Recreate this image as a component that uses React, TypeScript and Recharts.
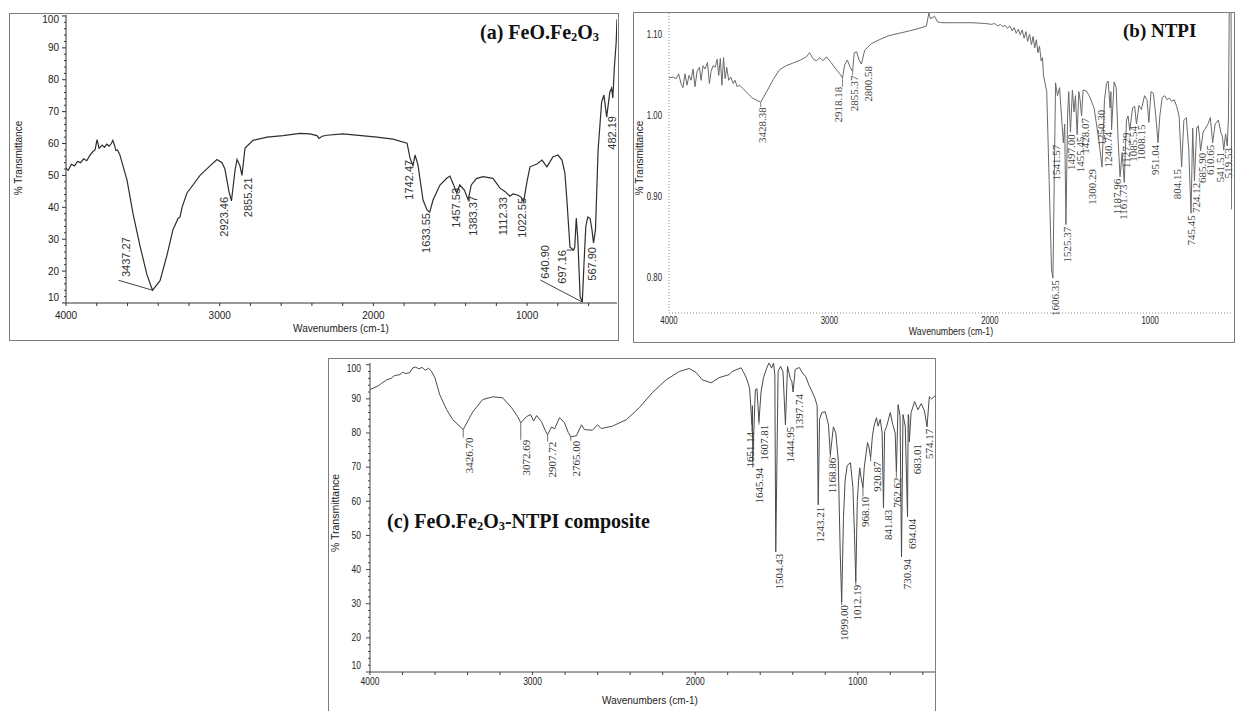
import React from "react";
import { ComposedChart, Line, XAxis, YAxis, ReferenceDot } from "recharts";

type Pt = [number, number];
type Peak = [string, number];
// [text dx, text dy, leader dx, leader dy] relative to the peak point, in px
type LabelPos = [number, number, number?, number?];

// (a) FeO.Fe2O3 : wavenumber (cm-1), % transmittance
const A_SPECTRUM: Pt[] = [
  [4000, 52.3], [3985, 51.6], [3965, 53.5], [3945, 53.0], [3925, 54.4], [3905, 54.0],
  [3885, 55.2], [3865, 54.6], [3845, 56.3], [3825, 57.5], [3811, 58.0], [3798, 61.2],
  [3785, 58.5], [3765, 59.5], [3750, 58.8], [3735, 59.8], [3720, 59.2], [3705, 60.0],
  [3695, 61.0], [3685, 59.5], [3675, 57.8], [3665, 58.0], [3650, 56.5], [3603, 48.5],
  [3564, 38], [3519, 28], [3473, 18.8], [3388, 17], [3343, 25], [3304, 33], [3271, 36.5],
  [3258, 37], [3245, 40], [3213, 44.5], [3174, 47], [3128, 50], [3063, 53], [3018, 55],
  [2985, 54], [2966, 52], [2940, 45], [2900, 51.7], [2887, 55], [2868, 53], [2835, 58.6],
  [2783, 61], [2692, 62], [2588, 62.5], [2478, 63.2], [2413, 63], [2367, 62.5], [2354, 61.6],
  [2334, 62.3], [2302, 62.6], [2198, 63], [1977, 62], [1873, 61.4], [1781, 60.1], [1762, 55.5],
  [1729, 56.4], [1710, 53.3], [1677, 42.3], [1651, 39.2], [1612, 42.3], [1567, 47],
  [1521, 49.2], [1502, 49.8], [1482, 47.5], [1438, 47], [1408, 45.4], [1363, 47], [1330, 49],
  [1287, 49.6], [1222, 49.1], [1176, 46], [1144, 45], [1092, 44.2], [1059, 43.8], [1040, 43.2],
  [1001, 48], [981, 52.7], [936, 53.6], [903, 54.8], [871, 52.7], [832, 55.8], [799, 56.4],
  [773, 54.8], [754, 50.7], [741, 42.3], [721, 27.5], [690, 27.5], [680, 36.6], [670, 30],
  [655, 12], [630, 22], [618, 34], [605, 37], [590, 36.5], [578, 33], [555, 33], [545, 47.6],
  [538, 58], [515, 73], [500, 75.2], [462, 76], [450, 77.4], [442, 74.3], [432, 84],
  [420, 92], [415, 99],
];
const A_PEAKS: Peak[] = [
  ["3437.27", 14.0], ["2923.46", 42.0], ["2855.21", 50.0], ["1742.47", 53.0],
  ["1633.55", 38.5], ["1457.53", 44.5], ["1383.37", 42.3], ["1112.33", 43.5],
  ["1022.55", 41.7], ["697.16", 26.6], ["640.90", 10.3], ["567.90", 28.8], ["482.19", 68.3],
];

// (b) NTPI
const B_SPECTRUM: Pt[] = [
  [4000, 1.047], [3975, 1.048], [3955, 1.046], [3940, 1.052], [3925, 1.04], [3913, 1.035],
  [3900, 1.052], [3888, 1.038], [3875, 1.05], [3862, 1.044], [3850, 1.058], [3838, 1.036],
  [3825, 1.055], [3810, 1.06], [3800, 1.044], [3788, 1.062], [3775, 1.058], [3760, 1.066],
  [3748, 1.04], [3738, 1.055], [3725, 1.062], [3712, 1.06], [3700, 1.07], [3690, 1.05],
  [3680, 1.071], [3670, 1.038], [3660, 1.072], [3650, 1.046], [3640, 1.06], [3628, 1.044],
  [3615, 1.048], [3600, 1.04], [3588, 1.044], [3575, 1.036], [3560, 1.038], [3540, 1.034],
  [3510, 1.028], [3480, 1.022], [3391, 1.03], [3350, 1.045], [3311, 1.057], [3270, 1.062],
  [3230, 1.065], [3180, 1.069], [3143, 1.073], [3124, 1.078], [3100, 1.07], [3080, 1.068],
  [3060, 1.072], [3040, 1.068], [3019, 1.073], [2990, 1.066], [2960, 1.058], [2935, 1.052],
  [2905, 1.063], [2888, 1.069], [2870, 1.06], [2845, 1.078], [2830, 1.079], [2815, 1.069],
  [2780, 1.081], [2740, 1.089], [2690, 1.094], [2630, 1.099], [2565, 1.102], [2500, 1.105],
  [2441, 1.108], [2395, 1.111], [2380, 1.127], [2370, 1.12], [2360, 1.121], [2345, 1.123],
  [2325, 1.116], [2300, 1.115], [2200, 1.115], [2112, 1.115], [2025, 1.114], [1990, 1.113],
  [1970, 1.114], [1950, 1.111], [1935, 1.113], [1920, 1.11], [1905, 1.112], [1890, 1.108],
  [1875, 1.111], [1860, 1.105], [1848, 1.109], [1835, 1.102], [1822, 1.107], [1810, 1.1],
  [1798, 1.106], [1786, 1.096], [1775, 1.104], [1764, 1.092], [1752, 1.101], [1740, 1.088],
  [1730, 1.098], [1720, 1.084], [1710, 1.094], [1700, 1.078], [1690, 1.086], [1680, 1.068],
  [1672, 1.072], [1665, 1.05], [1655, 1.04], [1645, 1.03], [1630, 0.92], [1615, 0.81],
  [1590, 1.041], [1578, 1.025], [1565, 1.035], [1533, 0.99], [1515, 1.0], [1508, 1.03],
  [1485, 1.032], [1475, 1.005], [1466, 1.025], [1445, 1.03], [1437, 1.02], [1418, 1.032],
  [1400, 1.031], [1380, 1.025], [1350, 1.01], [1320, 0.97], [1285, 1.02], [1272, 1.04],
  [1262, 1.043], [1245, 1.03], [1225, 1.042], [1212, 1.035], [1200, 0.97], [1175, 0.955],
  [1148, 0.995], [1138, 1.0], [1110, 1.01], [1097, 1.012], [1070, 1.013], [1055, 1.008],
  [1035, 1.025], [1020, 1.02], [995, 1.03], [980, 1.028], [965, 1.0], [940, 1.0],
  [925, 1.023], [910, 1.025], [895, 1.02], [880, 1.022], [865, 1.018], [850, 1.02],
  [835, 1.012], [820, 1.0], [790, 0.995], [775, 0.998], [760, 0.96], [735, 0.985],
  [710, 0.985], [700, 0.988], [693, 0.975], [670, 0.98], [655, 0.985], [640, 0.99],
  [625, 0.998], [595, 0.99], [575, 0.995], [560, 0.98], [550, 0.975], [530, 0.978],
  [512, 1.0], [507, 1.14], [496, 1.14], [492, 0.885], [490, 0.885],
];
const B_PEAKS: Peak[] = [
  ["3428.38", 1.017], ["2918.18", 1.047], ["2855.37", 1.055], ["2800.58", 1.064],
  ["1606.35", 0.8], ["1541.57", 0.967], ["1525.37", 0.866], ["1497.00", 0.98],
  ["1455.45", 0.977], ["1428.07", 1.0], ["1300.29", 0.937], ["1250.30", 1.01],
  ["1240.74", 0.983], ["1187.96", 0.925], ["1161.73", 0.918], ["1127.29", 0.982],
  ["1085.54", 0.99], ["1008.15", 0.992], ["951.04", 0.967], ["804.15", 0.937],
  ["745.45", 0.88], ["724.12", 0.92], ["685.90", 0.957], ["610.65", 0.967],
  ["541.51", 0.958], ["519.53", 0.963],
];

// (c) FeO.Fe2O3-NTPI composite
const C_SPECTRUM: Pt[] = [
  [4000, 92.7], [3950, 93.8], [3930, 94.5], [3896, 95.6], [3870, 96.0], [3850, 96.8],
  [3816, 97.1], [3800, 97.8], [3780, 97.4], [3755, 97.7], [3736, 99.1], [3720, 99.3],
  [3700, 98.8], [3680, 99.2], [3660, 98.4], [3650, 98.6], [3640, 99.0], [3620, 97.9],
  [3601, 96.2], [3571, 91.2], [3528, 86.8], [3491, 83.9], [3368, 86.2], [3307, 89.8],
  [3245, 90.6], [3184, 90.3], [3129, 87.4], [3092, 84.8], [3037, 84.8], [3012, 85.4],
  [2994, 83.5], [2975, 85.1], [2945, 83.3], [2920, 80.5], [2883, 81.8], [2865, 81.2],
  [2834, 84.5], [2804, 83], [2780, 80.1], [2730, 79.2], [2699, 82.4], [2681, 81],
  [2632, 80.8], [2601, 82.4], [2577, 81.3], [2509, 82], [2423, 83.9], [2344, 87.4],
  [2264, 91.8], [2178, 95.6], [2098, 98], [2037, 98.9], [1994, 97.7], [1957, 95.6],
  [1902, 94.7], [1853, 96.2], [1791, 97.1], [1773, 98], [1718, 99.1], [1699, 97.5],
  [1681, 95.6], [1665, 93], [1648, 88], [1630, 92.7], [1620, 93], [1595, 92],
  [1580, 96.2], [1560, 99], [1546, 100.5], [1530, 99], [1518, 100.5], [1510, 97],
  [1490, 98], [1475, 99.5], [1460, 98], [1432, 99.5], [1415, 96], [1405, 95],
  [1385, 98.6], [1360, 99.2], [1340, 97.6], [1320, 96.5], [1300, 94], [1280, 92],
  [1262, 90], [1250, 88], [1235, 84], [1221, 86], [1200, 86.2], [1180, 82.4],
  [1150, 81.8], [1135, 80], [1120, 72], [1108, 45], [1088, 55], [1078, 66], [1065, 70.5],
  [1045, 71.3], [1030, 64], [1020, 50], [1003, 60], [995, 66], [988, 69.8], [980, 67],
  [960, 70], [950, 73.6], [940, 77.2], [932, 76], [910, 79], [900, 82], [885, 84.5],
  [875, 82], [862, 84], [850, 80], [835, 80.4], [822, 82], [800, 86], [785, 82.5],
  [770, 80], [752, 88.3], [740, 85], [722, 85.4], [708, 82], [690, 85.4], [687, 85],
  [672, 86], [650, 89.2], [630, 86.8], [610, 88.6], [590, 86.5], [560, 90.6], [545, 90],
  [525, 90.9],
];
const C_PEAKS: Peak[] = [
  ["3426.70", 81.0], ["3072.69", 83.0], ["2907.72", 79.5], ["2765.00", 78.9],
  ["1651.14", 82.4], ["1645.94", 71.6], ["1607.81", 83.3], ["1504.43", 45.2],
  ["1444.95", 82.4], ["1397.74", 92], ["1243.21", 59], ["1168.86", 73.6],
  ["1099.00", 30.5], ["1012.19", 36.4], ["968.10", 64], ["920.87", 72.8],
  ["841.83", 58.1], ["762.62", 68.7], ["730.94", 43.7], ["694.04", 55.5],
  ["683.01", 77.4], ["574.17", 81.8],
];

const WAVENUMBER_LABELS = [4000, 3000, 2000, 1000];
const PERCENT_LABELS = [10, 20, 30, 40, 50, 60, 70, 80, 90, 100];
const NTPI_LABELS = [0.8, 0.9, 1.0, 1.1];

// label placement around each peak
const A_LABEL_POS: Record<string, LabelPos> = {
  "3437.27": [-26, -53, -34, -10],
  "2923.46": [-7, -4],
  "2855.21": [6, 2],
  "1742.47": [-4, -6],
  "1633.55": [-4, 1],
  "1457.53": [-1, -5],
  "1383.37": [5, -4],
  "1112.33": [-7, 1],
  "1022.55": [-2, -4],
  "697.16": [-12, 0, -7, 0],
  "640.90": [-37, -57, -42, -22],
  "567.90": [-1, 4],
  "482.19": [5, -1],
};
const B_LABEL_POS: Record<string, LabelPos> = {
  "3428.38": [1, 5], "2918.18": [-5, 9], "2855.37": [1, 4], "2800.58": [7, 2],
  "1606.35": [2.5, 2], "1541.57": [-7.5, 2], "1525.37": [1.5, 2], "1497.00": [1, 2],
  "1455.45": [2.5, 2], "1428.07": [3, 2], "1300.29": [-10.5, 2], "1250.30": [-9.5, 2],
  "1240.74": [-3.5, 2], "1187.96": [-3.5, 2], "1161.73": [-1, 2], "1127.29": [-4, 2],
  "1085.54": [-3.5, 2], "1008.15": [-7.5, 2], "951.04": [-3.5, 2], "804.15": [-5, 2],
  "745.45": [-0.5, 2], "724.12": [2, 2], "685.90": [1, 2], "610.65": [-3, 2],
  "541.51": [-4, 2], "519.53": [1, 2],
};
const C_LABEL_POS: Record<string, LabelPos> = {
  "3426.70": [6, 8], "3072.69": [5, 17], "2907.72": [4, 7], "2765.00": [5, 4],
  "1651.14": [-2, 7], "1645.94": [6, 6], "1607.81": [5, 3], "1504.43": [3, 2],
  "1444.95": [5, 2], "1397.74": [6, 2], "1243.21": [2, 2], "1168.86": [2, 3],
  "1099.00": [2, 3], "1012.19": [1, 3], "968.10": [2.5, 9], "920.87": [6, 4],
  "841.83": [5, 2], "762.62": [1, 6], "730.94": [5, 2], "694.04": [4, 2],
  "683.01": [8, 2], "574.17": [2, 2],
};

const SANS = "'Liberation Sans', Arial, sans-serif";
const SERIF = "'Liberation Serif', 'Times New Roman', serif";

interface PanelCfg {
  box: [number, number, number, number];
  marginTop: number;
  marginRight: number;
  yAxisWidth: number;
  xAxisHeight: number;
  xDomain: [number, number];
  yDomain: [number, number];
  xTicks: number[];
  yTicks: number[];
  xMajor: number[];
  yMajor: number[];
  yFormat: (v: number) => string;
  spectrum: Pt[];
  peaks: Peak[];
  labelPos: Record<string, LabelPos>;
  vertMarker: boolean;
  lineColor: string;
  lineWidth: number;
  axisColor: string;
  dotted: boolean;
  labelFont: string;
  labelColor: string;
  tickLen: number;
  tickSx: number;
  xLabelDy: number;
  yLabelGap: number;
  nudgeEnds: boolean;
}

function buildSeries(spectrum: Pt[], peaks: Peak[]) {
  const pts = spectrum
    .map(([w, t]) => ({ w, t }))
    .concat(peaks.map(([label, t]) => ({ w: parseFloat(label), t })));
  pts.sort((a, b) => b.w - a.w);
  return pts;
}

function minorTicks(from: number, to: number, step: number) {
  const out: number[] = [];
  for (let v = from; v >= to; v -= step) out.push(Math.round(v * 1000) / 1000);
  return out;
}

function renderXTick(props: any, cfg: PanelCfg) {
  const { x, y, payload } = props;
  const v = payload.value as number;
  const major = cfg.xMajor.includes(v);
  return (
    <g>
      {cfg.tickLen > 0 && (
        <line x1={x} x2={x} y1={y} y2={y + cfg.tickLen} stroke={cfg.axisColor} strokeWidth={1} />
      )}
      {major && (
        <text
          transform={`translate(${x},${y + cfg.xLabelDy}) scale(${cfg.tickSx},1)`}
          textAnchor="middle"
          dominantBaseline="central"
          fontSize={10}
          fontFamily={SANS}
          fill="#222"
        >
          {v}
        </text>
      )}
    </g>
  );
}

function renderYTick(props: any, cfg: PanelCfg) {
  const { x, y, payload } = props;
  const v = payload.value as number;
  const major = cfg.yMajor.includes(v);
  let ly = y;
  if (cfg.nudgeEnds && v === cfg.yMajor[0]) ly -= 6;
  if (cfg.nudgeEnds && v === cfg.yMajor[cfg.yMajor.length - 1]) ly += 4;
  return (
    <g>
      {cfg.tickLen > 0 && (
        <line x1={x - (major ? 4 : 2)} x2={x} y1={y} y2={y} stroke={cfg.axisColor} strokeWidth={1} />
      )}
      {major && (
        <text
          transform={`translate(${x - cfg.yLabelGap},${ly}) scale(${cfg.tickSx},1)`}
          textAnchor="end"
          dominantBaseline="central"
          fontSize={10}
          fontFamily={SANS}
          fill="#222"
        >
          {cfg.yFormat(v)}
        </text>
      )}
    </g>
  );
}

function peakShape(label: string, cfg: PanelCfg) {
  const [dx, dy, lx, ly] = cfg.labelPos[label] ?? [3, 3];
  return (props: any) => {
    const { cx, cy } = props;
    const tx = cx + dx;
    const ty = cy + dy;
    return (
      <g>
        {lx !== undefined && ly !== undefined && (
          <line x1={cx} y1={cy} x2={cx + lx} y2={cy + ly} stroke={cfg.lineColor} strokeWidth={0.9} />
        )}
        {cfg.vertMarker && dy > 2 && (
          <line x1={cx} y1={cy} x2={cx} y2={ty} stroke={cfg.lineColor} strokeWidth={0.8} />
        )}
        <text
          x={tx}
          y={ty}
          transform={`rotate(-90 ${tx} ${ty})`}
          textAnchor="end"
          dominantBaseline="central"
          fontSize={11}
          fontFamily={cfg.labelFont}
          fill={cfg.labelColor}
        >
          {label}
        </text>
      </g>
    );
  };
}

function Panel({ cfg }: { cfg: PanelCfg }) {
  const [left, top, width, height] = cfg.box;
  const data = buildSeries(cfg.spectrum, cfg.peaks);
  const axisLine = {
    stroke: cfg.axisColor,
    strokeWidth: 1,
    strokeDasharray: cfg.dotted ? "1 2" : undefined,
  };
  return (
    <>
      <div style={{ position: "absolute", left, top, width, height }}>
        <ComposedChart
          width={width}
          height={height}
          data={data}
          margin={{ top: cfg.marginTop, right: cfg.marginRight, bottom: 0, left: 0 }}
        >
          <XAxis
            dataKey="w"
            type="number"
            domain={cfg.xDomain}
            reversed
            allowDataOverflow
            ticks={cfg.xTicks}
            interval={0}
            tickSize={0}
            tickMargin={0}
            tickLine={false}
            height={cfg.xAxisHeight}
            axisLine={axisLine}
            tick={(p: any) => renderXTick(p, cfg)}
          />
          <YAxis
            type="number"
            domain={cfg.yDomain}
            allowDataOverflow
            ticks={cfg.yTicks}
            interval={0}
            tickSize={0}
            tickMargin={0}
            tickLine={false}
            width={cfg.yAxisWidth}
            axisLine={axisLine}
            tick={(p: any) => renderYTick(p, cfg)}
          />
          <Line
            dataKey="t"
            type="linear"
            stroke={cfg.lineColor}
            strokeWidth={cfg.lineWidth}
            dot={false}
            activeDot={false}
            isAnimationActive={false}
          />
          {cfg.peaks.map(([label, t]) => (
            <ReferenceDot
              key={label}
              x={parseFloat(label)}
              y={t}
              r={0}
              ifOverflow="visible"
              shape={peakShape(label, cfg)}
            />
          ))}
        </ComposedChart>
      </div>
      <div
        style={{
          position: "absolute",
          left,
          top,
          width,
          height,
          border: "1px solid #7d7d7d",
          boxSizing: "border-box",
          pointerEvents: "none",
        }}
      />
    </>
  );
}

const PANEL_A: PanelCfg = {
  box: [9, 13, 610, 328],
  marginTop: 2,
  marginRight: 2,
  yAxisWidth: 57,
  xAxisHeight: 38,
  xDomain: [415, 4000],
  yDomain: [10, 100.3],
  xTicks: minorTicks(4000, 415, 200),
  yTicks: minorTicks(100, 10, 2),
  xMajor: WAVENUMBER_LABELS,
  yMajor: PERCENT_LABELS,
  yFormat: (v) => String(v),
  spectrum: A_SPECTRUM,
  peaks: A_PEAKS,
  labelPos: A_LABEL_POS,
  vertMarker: false,
  lineColor: "#2e2e2e",
  lineWidth: 1.2,
  axisColor: "#333",
  dotted: false,
  labelFont: SANS,
  labelColor: "#333",
  tickLen: 3,
  tickSx: 1,
  xLabelDy: 12,
  yLabelGap: 7,
  nudgeEnds: true,
};

const PANEL_B: PanelCfg = {
  box: [633, 12, 602, 331],
  marginTop: 1,
  marginRight: 3,
  yAxisWidth: 36,
  xAxisHeight: 30,
  xDomain: [490, 4000],
  yDomain: [0.757, 1.127],
  xTicks: WAVENUMBER_LABELS,
  yTicks: NTPI_LABELS,
  xMajor: WAVENUMBER_LABELS,
  yMajor: NTPI_LABELS,
  yFormat: (v) => v.toFixed(2),
  spectrum: B_SPECTRUM,
  peaks: B_PEAKS,
  labelPos: B_LABEL_POS,
  vertMarker: true,
  lineColor: "#6a6a6a",
  lineWidth: 1,
  axisColor: "#888",
  dotted: true,
  labelFont: SERIF,
  labelColor: "#444",
  tickLen: 0,
  tickSx: 0.78,
  xLabelDy: 8,
  yLabelGap: 7,
  nudgeEnds: false,
};

const PANEL_C: PanelCfg = {
  box: [328, 358, 608, 356],
  marginTop: 5,
  marginRight: 1,
  yAxisWidth: 42,
  xAxisHeight: 42,
  xDomain: [525, 4000],
  yDomain: [10, 100.5],
  xTicks: minorTicks(4000, 525, 200),
  yTicks: minorTicks(100, 10, 2),
  xMajor: WAVENUMBER_LABELS,
  yMajor: PERCENT_LABELS,
  yFormat: (v) => String(v),
  spectrum: C_SPECTRUM,
  peaks: C_PEAKS,
  labelPos: C_LABEL_POS,
  vertMarker: true,
  lineColor: "#4a4a4a",
  lineWidth: 1,
  axisColor: "#444",
  dotted: false,
  labelFont: SERIF,
  labelColor: "#333",
  tickLen: 3,
  tickSx: 0.85,
  xLabelDy: 10,
  yLabelGap: 9,
  nudgeEnds: true,
};

function AxisText({ x, y, rotate = 0, sx = 1, size = 10, children }: any) {
  return (
    <div
      style={{
        position: "absolute",
        left: x,
        top: y,
        transform: `translate(-50%,-50%) rotate(${rotate}deg) scaleX(${sx})`,
        fontFamily: SANS,
        fontSize: size,
        lineHeight: 1,
        whiteSpace: "nowrap",
        color: "#222",
      }}
    >
      {children}
    </div>
  );
}

function Title({ x, y, size = 20, children }: any) {
  return (
    <div
      style={{
        position: "absolute",
        left: x,
        top: y,
        transform: "translateY(-50%)",
        fontFamily: SERIF,
        fontWeight: "bold",
        fontSize: size,
        lineHeight: 1,
        whiteSpace: "nowrap",
        color: "#111",
      }}
    >
      {children}
    </div>
  );
}

const sub = { fontSize: "0.62em", verticalAlign: "-0.2em", lineHeight: 0 } as const;

export default function App() {
  return (
    <div
      style={{
        position: "absolute",
        left: 0,
        top: 0,
        width: 1236,
        height: 711,
        background: "#fff",
        overflow: "hidden",
      }}
    >
      <Panel cfg={PANEL_A} />
      <Panel cfg={PANEL_B} />
      <Panel cfg={PANEL_C} />

      <AxisText x={19} y={158} rotate={-90}>% Transmittance</AxisText>
      <AxisText x={341} y={329}>Wavenumbers (cm-1)</AxisText>
      <AxisText x={640} y={158} rotate={-90}>% Transmittance</AxisText>
      <AxisText x={951} y={332} sx={0.88}>Wavenumbers (cm-1)</AxisText>
      <AxisText x={335} y={513} rotate={-90} size={10.5}>% Transmittance</AxisText>
      <AxisText x={650} y={701}>Wavenumbers (cm-1)</AxisText>

      <Title x={480} y={32}>
        (a) FeO.Fe<span style={sub}>2</span>O<span style={sub}>3</span>
      </Title>
      <Title x={1123} y={30} size={19}>(b) NTPI</Title>
      <Title x={387} y={521}>
        (c) FeO.Fe<span style={sub}>2</span>O<span style={sub}>3</span>-NTPI composite
      </Title>
    </div>
  );
}
